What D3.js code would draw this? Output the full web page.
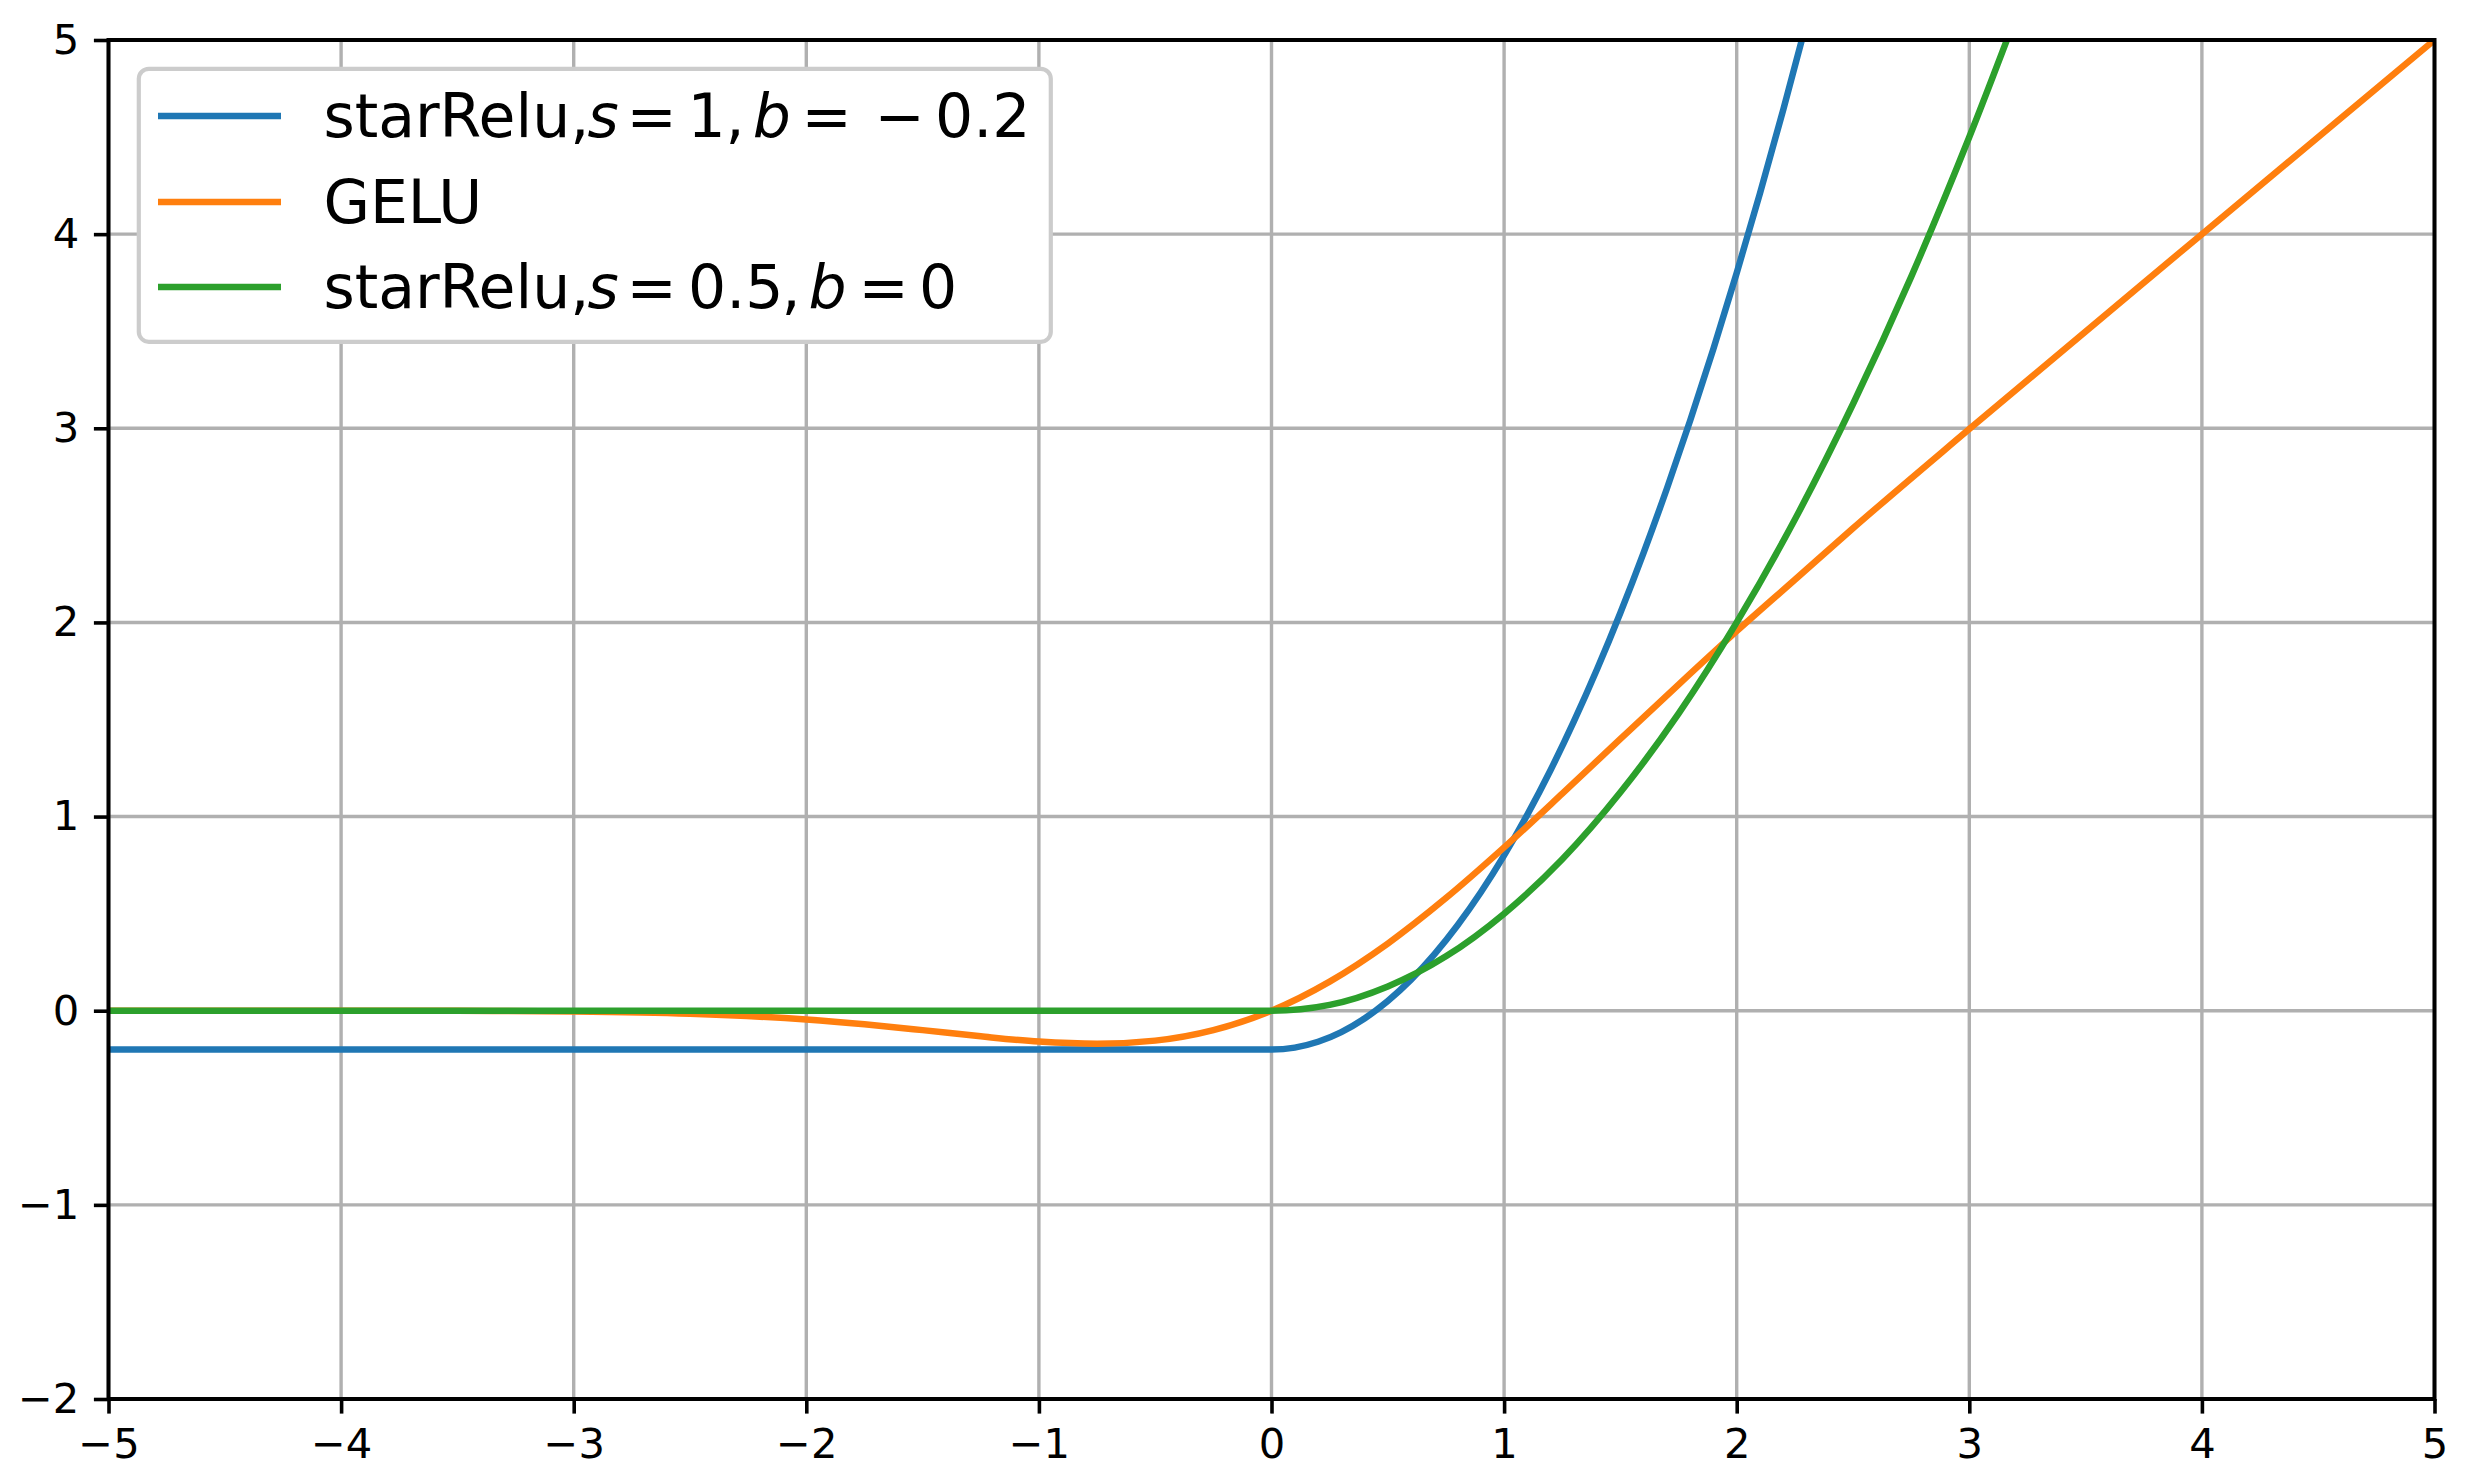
<!DOCTYPE html>
<html>
<head>
<meta charset="utf-8">
<script src="https://cdn.jsdelivr.net/npm/d3@7"></script>
<style>
  body { margin: 0; background: #ffffff; }
  svg text { font-family: "DejaVu Sans", sans-serif; }
</style>
</head>
<body>
<div id="chart"></div>
<script>
// values
var xTicks = [-5, -4, -3, -2, -1, 0, 1, 2, 3, 4, 5];
var yTicks = [-2, -1, 0, 1, 2, 3, 4, 5];

var blueX = [-5, -4, -3, -2, -1, 0, 0.1, 0.2, 0.3, 0.4, 0.5, 0.6, 0.7, 0.8, 0.9, 1.0, 1.1, 1.2, 1.3, 1.4, 1.5, 1.6, 1.7, 1.8, 1.9, 2.0, 2.1, 2.2, 2.3];
var blueY = [-0.2, -0.2, -0.2, -0.2, -0.2, -0.2, -0.19, -0.16, -0.11, -0.04, 0.05, 0.16, 0.29, 0.44, 0.61, 0.80, 1.01, 1.24, 1.49, 1.76, 2.05, 2.36, 2.69, 3.04, 3.41, 3.80, 4.21, 4.64, 5.09];

var geluX = [-5, -4, -3.5, -3, -2.5, -2, -1.75, -1.5, -1.25, -1, -0.75, -0.5, -0.25, 0, 0.25, 0.5, 0.75, 1, 1.25, 1.5, 1.75, 2, 2.25, 2.5, 3, 4, 5];
var geluY = [0, -0.0001, -0.0008, -0.004, -0.0155, -0.0455, -0.07, -0.1, -0.132, -0.159, -0.17, -0.154, -0.1, 0, 0.15, 0.346, 0.58, 0.841, 1.118, 1.4, 1.68, 1.955, 2.22, 2.485, 2.996, 4.0, 5.0];

var greenX = [-5, -4, -3, -2, -1, 0, 0.25, 0.5, 0.75, 1.0, 1.25, 1.5, 1.75, 2.0, 2.25, 2.5, 2.75, 3.0, 3.25];
var greenY = [0, 0, 0, 0, 0, 0, 0.03, 0.125, 0.28, 0.5, 0.78, 1.125, 1.53, 2.0, 2.53, 3.125, 3.78, 4.5, 5.28];

var seriesNames = ["blue", "gelu", "green"];
var seriesColors = ["#1f77b4", "#ff7f0e", "#2ca02c"];

// legend labels: [text, italic]
var labels = [
    [["starRelu,", false], ["s", true], ["=", false], ["1", false], [",", false],
     ["b", true], ["=", false], ["\u2212", false], ["0.2", false]],
    [["GELU", false]],
    [["starRelu,", false], ["s", true], ["=", false], ["0.5", false], [",", false],
     ["b", true], ["=", false], ["0", false]]
];

var width = 2471,
    height = 1481;
var plotLeft = 108.5, plotRight = 2434.5, plotTop = 40, plotBottom = 1399;

var x = d3.scaleLinear().domain([-5, 5]).range([plotLeft, plotRight]);
var y = d3.scaleLinear().domain([-2, 5]).range([plotBottom, plotTop]);

var svg = d3.select("#chart").append("svg")
    .attr("width", width)
    .attr("height", height);

svg.append("rect")
    .attr("width", width)
    .attr("height", height)
    .style("fill", "#ffffff");

svg.append("clipPath")
    .attr("id", "plotClip")
  .append("rect")
    .attr("x", plotLeft)
    .attr("y", plotTop)
    .attr("width", plotRight - plotLeft)
    .attr("height", plotBottom - plotTop);

// grid
var grid = svg.append("g");
grid.selectAll("line.gx")
    .data(xTicks)
  .enter().append("line")
    .attr("x1", function(d) { return x(d); })
    .attr("x2", function(d) { return x(d); })
    .attr("y1", plotTop)
    .attr("y2", plotBottom)
    .style("stroke", "#b0b0b0")
    .style("stroke-width", 3.4);
grid.selectAll("line.gy")
    .data(yTicks)
  .enter().append("line")
    .attr("x1", plotLeft)
    .attr("x2", plotRight)
    .attr("y1", function(d) { return y(d); })
    .attr("y2", function(d) { return y(d); })
    .style("stroke", "#b0b0b0")
    .style("stroke-width", 3.4);

// curves
var series = [
    d3.zip(blueX, blueY),
    d3.zip(geluX, geluY),
    d3.zip(greenX, greenY)
];

var line = d3.line()
    .x(function(d) { return x(d[0]); })
    .y(function(d) { return y(d[1]); })
    .curve(d3.curveMonotoneX);

svg.append("g")
    .attr("clip-path", "url(#plotClip)")
  .selectAll("path")
    .data(series)
  .enter().append("path")
    .attr("d", line)
    .style("fill", "none")
    .style("stroke", function(d, i) { return seriesColors[i]; })
    .style("stroke-width", 6.5)
    .style("stroke-linejoin", "round");

// axes
var fmt = d3.format("d");
var xAxis = svg.append("g")
    .attr("transform", "translate(0," + plotBottom + ")")
    .call(d3.axisBottom(x).tickValues(xTicks).tickFormat(fmt).tickSize(14.6).tickPadding(14.6));
var yAxis = svg.append("g")
    .attr("transform", "translate(" + plotLeft + ",0)")
    .call(d3.axisLeft(y).tickValues(yTicks).tickFormat(fmt).tickSize(14.6).tickPadding(14.6));

[xAxis, yAxis].forEach(function(a) {
    a.select(".domain").remove();
    a.selectAll(".tick line").style("stroke", "#000000").style("stroke-width", 3.6);
    a.selectAll(".tick text")
        .style("font-size", "41.67px")
        .style("font-family", "DejaVu Sans")
        .style("fill", "#000000");
});

// spines
svg.append("rect")
    .attr("x", plotLeft)
    .attr("y", plotTop)
    .attr("width", plotRight - plotLeft)
    .attr("height", plotBottom - plotTop)
    .style("fill", "none")
    .style("stroke", "#000000")
    .style("stroke-width", 4)
    .style("stroke-linejoin", "miter");

// legend
var legend = svg.append("g");
legend.append("rect")
    .attr("x", 138.8)
    .attr("y", 68.8)
    .attr("width", 912)
    .attr("height", 273)
    .attr("rx", 10)
    .style("fill", "#ffffff")
    .style("stroke", "#cccccc")
    .style("stroke-width", 4.2);

var rowY = [116, 202, 287];
// start of each label piece, mathtext-like spacing
var pieceX = [
    [323.4, 587.5, 626.6, 687.4, 725.6, 752.7, 801.6, 874.6, 935],
    [323.4],
    [323.4, 587.5, 626.6, 688, 781.4, 808.5, 858.6, 919]
];

var rows = legend.selectAll("g.row")
    .data(seriesNames)
  .enter().append("g")
    .attr("transform", function(d, i) { return "translate(0," + rowY[i] + ")"; });

rows.append("line")
    .attr("x1", 158)
    .attr("x2", 281)
    .style("stroke", function(d, i) { return seriesColors[i]; })
    .style("stroke-width", 6.5);

rows.each(function(d, i) {
    var row = d3.select(this);
    labels[i].forEach(function(p, j) {
        row.append("text")
            .attr("x", pieceX[i][j])
            .attr("y", 21)
            .style("font-size", "60px")
            .style("font-style", p[1] ? "italic" : "normal")
            .text(p[0]);
    });
});
</script>
</body>
</html>
